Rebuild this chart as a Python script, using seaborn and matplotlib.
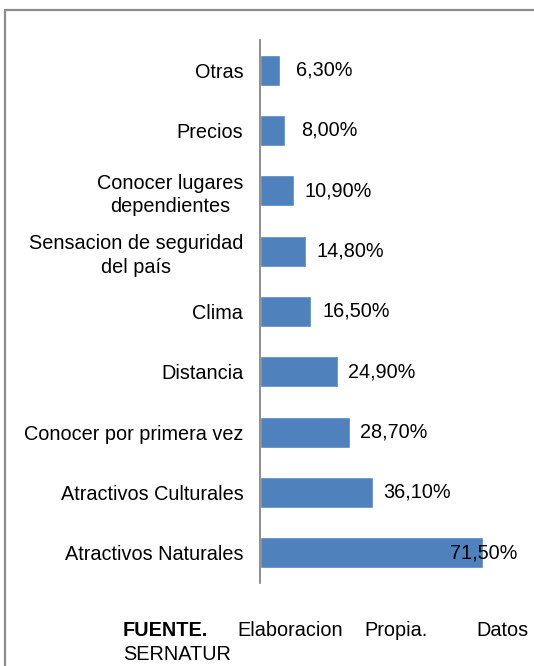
import matplotlib
matplotlib.use("Agg")
import matplotlib.pyplot as plt
import seaborn as sns
import pandas as pd
from matplotlib.lines import Line2D

# Data
categorias = [
    "Otras",
    "Precios",
    "Conocer lugares\ndependientes",
    "Sensacion de seguridad\ndel país",
    "Clima",
    "Distancia",
    "Conocer por primera vez",
    "Atractivos Culturales",
    "Atractivos Naturales",
]
porcentajes = [6.3, 8.0, 10.9, 14.8, 16.5, 24.9, 28.7, 36.1, 71.5]
etiquetas = ["6,30%", "8,00%", "10,90%", "14,80%", "16,50%", "24,90%", "28,70%", "36,10%", "71,50%"]

df = pd.DataFrame({"Motivo": categorias, "Porcentaje": porcentajes})

sns.set_style("white")
plt.rcParams["font.family"] = ["Liberation Sans", "DejaVu Sans"]
plt.rcParams["text.color"] = "black"
plt.rcParams["ytick.color"] = "black"
plt.rcParams["ytick.labelcolor"] = "black"

fs = 14.3

fig = plt.figure(figsize=(5.34, 6.66), dpi=100)
ax = fig.add_axes([260 / 534, 1 - 583 / 666, 257 / 534, 543 / 666])

sns.barplot(data=df, x="Porcentaje", y="Motivo", orient="h", color="#4F81BD",
            saturation=1, width=0.51, ax=ax)

xmax = 82.4
ax.set_xlim(0, xmax)
ax.set_ylim(len(categorias) - 0.5, -0.5)

for i, (v, t) in enumerate(zip(porcentajes, etiquetas)):
    if v + 14.2 + 11 > xmax:
        ax.text(xmax, i, t, ha="right", va="center", fontsize=fs, color="black")
    else:
        ax.text(v + 14.2, i, t, ha="center", va="center", fontsize=fs, color="black")

ax.set_xlabel("")
ax.set_ylabel("")
ax.set_xticks([])
ax.tick_params(axis="y", length=0, pad=12, labelsize=fs, labelcolor="black")
for lbl in ax.get_yticklabels():
    lbl.set_multialignment("center")
    lbl.set_linespacing(1.3)
for s in ["top", "right", "bottom"]:
    ax.spines[s].set_visible(False)
ax.spines["left"].set_color("#868686")
ax.spines["left"].set_linewidth(1.3)

# frame around the chart
fig.add_artist(Line2D([5 / 534, 1], [1 - 10 / 666, 1 - 10 / 666], transform=fig.transFigure,
                      color="#8c8c8c", lw=1.6))
fig.add_artist(Line2D([5 / 534, 5 / 534], [0, 1 - 10 / 666], transform=fig.transFigure,
                      color="#8c8c8c", lw=1.6))

# source note (justified line)
y1 = 1 - 630 / 666
y2 = 1 - 654 / 666
fig.text(123 / 534, y1, "FUENTE.", fontsize=fs, fontweight="bold", va="center", ha="left")
fig.text(237 / 534, y1, "Elaboracion", fontsize=fs, va="center", ha="left")
fig.text(364 / 534, y1, "Propia.", fontsize=fs, va="center", ha="left")
fig.text(529 / 534, y1, "Datos", fontsize=fs, va="center", ha="right")
fig.text(123 / 534, y2, "SERNATUR", fontsize=fs, va="center", ha="left")

fig.savefig("out.png", dpi=100)
